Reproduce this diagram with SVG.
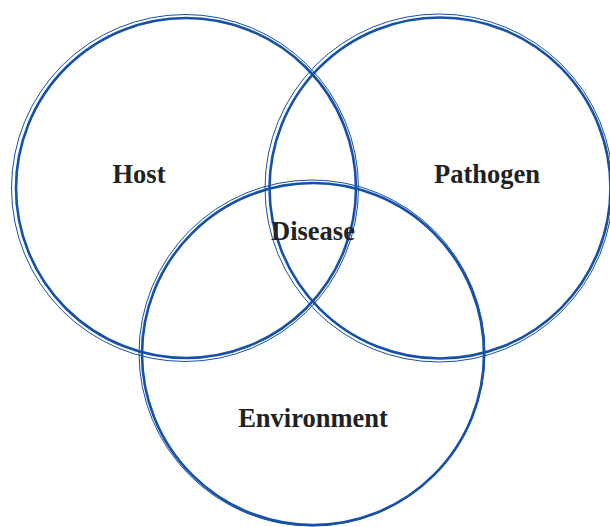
<svg xmlns="http://www.w3.org/2000/svg" width="610" height="527" viewBox="0 0 610 527">
<style>
.thick{fill:none;stroke:#1650a8;stroke-width:2.6}
.thin{fill:none;stroke:#1650a8;stroke-width:1}
.lbl{font-family:"Liberation Serif",serif;font-weight:bold;font-size:26.5px;fill:#222;text-anchor:middle}
</style>
<rect width="610" height="527" fill="#fff"/>
<g id="host">
<circle class="thick" cx="186" cy="188" r="170"/>
<circle class="thin" cx="185" cy="188" r="173.5"/>
<text class="lbl" x="139" y="183">Host</text>
</g>
<g id="pathogen">
<circle class="thick" cx="440" cy="188" r="170.5"/>
<circle class="thin" cx="439" cy="188" r="174"/>
<text class="lbl" x="487" y="183">Pathogen</text>
</g>
<g id="environment">
<circle class="thick" cx="313" cy="354" r="171"/>
<circle class="thin" cx="312" cy="353" r="173"/>
<text class="lbl" x="313" y="427">Environment</text>
</g>
<g id="disease">
<text class="lbl" x="313" y="240">Disease</text>
</g>
<g id="connectors"></g>
</svg>
